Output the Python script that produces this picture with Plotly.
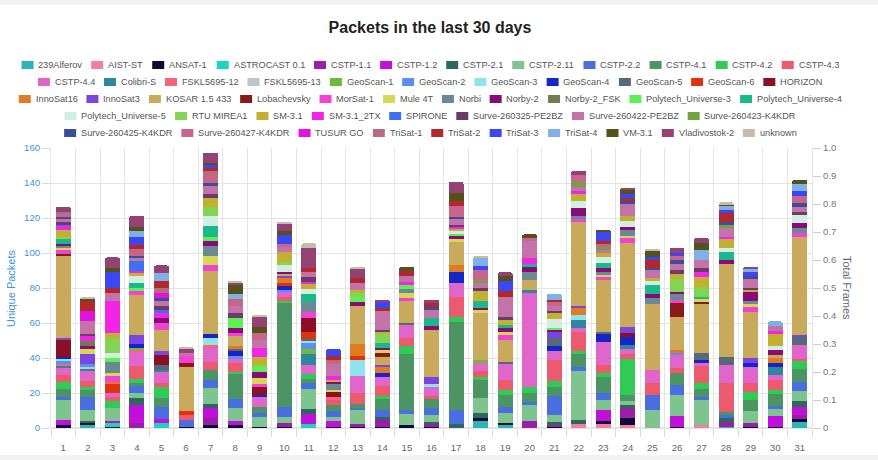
import plotly.graph_objects as go

# ---------------- data ----------------
DAYS = list(range(1, 32))
DAY_LABELS = [str(d) for d in DAYS]

NAMES = ["239Alferov", "AIST-ST", "ANSAT-1", "ASTROCAST 0.1", "CSTP-1.1", "CSTP-1.2", "CSTP-2.1",
         "CSTP-2.11", "CSTP-2.2", "CSTP-4.1", "CSTP-4.2", "CSTP-4.3", "CSTP-4.4", "Colibri-S",
         "FSKL5695-12", "FSKL5695-13", "GeoScan-1", "GeoScan-2", "GeoScan-3", "GeoScan-4",
         "GeoScan-5", "GeoScan-6", "HORIZON", "InnoSat16", "InnoSat3", "KOSAR 1.5 433",
         "Lobachevsky", "MorSat-1", "Mule 4T", "Norbi", "Norby-2", "Norby-2_FSK",
         "Polytech_Universe-3", "Polytech_Universe-4", "Polytech_Universe-5", "RTU MIREA1",
         "SM-3.1", "SM-3.1_2TX", "SPIRONE", "Surve-260325-PE2BZ", "Surve-260422-PE2BZ",
         "Surve-260423-K4KDR", "Surve-260425-K4KDR", "Surve-260427-K4KDR", "TUSUR GO",
         "TriSat-1", "TriSat-2", "TriSat-3", "TriSat-4", "VM-3.1", "Vladivostok-2", "unknown"]

COLORS = ["#2bb5b8", "#f27ea0", "#0b0b35", "#1dd3c0", "#9a1fa6", "#c20fdc", "#2f665e",
          "#7ec48e", "#4a6ee0", "#4c9463", "#2fcb55", "#ec5a6e", "#e066cc", "#2d87a0",
          "#f5647a", "#bcc6cb", "#6cbb3c", "#5d8ef0", "#8fe3ea", "#1426c8",
          "#56687a", "#e0320f", "#8c1024", "#e07b22", "#7a45e0", "#c9a95c",
          "#8a1a1a", "#f242d6", "#d4d855", "#6a8a92", "#8a0a78", "#6e7d52",
          "#5cf055", "#19b98a", "#d2ede2", "#82d552",
          "#c2b032", "#f224e6", "#3b72f2", "#6e3b68", "#c473a8",
          "#73a33f", "#3a4f96", "#c9648c", "#e212dc",
          "#b56c7e", "#b2282c", "#3b48f2", "#7fb0e6", "#52521a", "#944274", "#cbbaa8"]

ALFEROV  = [0,2,0,0,0,0,0,0,0,0, 0,0,0,0,0,0,0,4.2,1.5,0, 0,0,0,0,0,0,0,0.7,0,0, 3.6]
AIST     = [0,0,0,0,0,0,0,0,0,0, 0,0,0,0,0,0,0,0,0,0, 0,2.3,2.3,1.7,0,0,1.7,0,0,0, 0]
ANSAT    = [1.5,0.7,0.7,0,0,0.7,1.5,1.5,0.7,0.7, 0,0.7,0.7,0.7,1.5,0.7,0,1.3,1.5,0, 0.7,0,1.9,3.8,0,0.7,0,0,0.7,0.7, 1.3]
ASTRO    = [0,0,2.3,0,2.7,0,0,0,0,0, 2.3,0,0,0,0,0,0,0,0,0, 0,0,0,0,0,0,0,0,0,0, 0]
CSTP11   = [0,0,0,2.7,0,0,4,0,0,2, 0,0,1.5,3.8,0,1.5,0,0,0,4.2, 1,0,0,5.7,0,0,0,2.9,1.9,0, 2.5]
CSTP12   = [3,0,1,10.5,2.3,0,5.7,2.7,0,0, 5.7,3.3,0,0,0,0,0,0,0,0, 0,0,6.1,0,0,6.1,0,0,0,6.1, 4.8]
CSTP21   = [0,1.5,0,3.8,0,0,2.8,0,0,0, 2.9,0,0,1.9,0,1.3,2.3,2.9,0,0, 1.5,2.5,0,1.9,0,0,0,1.9,0,0, 3.4]
CSTP211  = [12,6,7.5,3.2,0,0,8.6,7,5.7,3.8, 11.2,2.5,8,0,6.5,3.8,0,8.6,5.7,9, 4.5,28,5.7,2.5,10.3,12,14.3,0,7.2,3.8, 5.7]
CSTP22   = [1,7.5,0,3.8,7.2,4,4.8,5.1,2,5.7, 3.8,3.5,1.5,3.8,2.3,4.2,8,0,3.4,1.9, 10.5,2.3,4.2,0,8.6,5.5,1.9,1.9,0,1.9, 5.1]
CSTP41   = [5,4,0,2,4.8,0,5.7,14.9,3.8,59, 1.9,3,2.3,6.1,32,4.8,50,10.5,6.7,5.1, 5.3,7.2,9.1,3.2,0,6.9,4.2,1.9,6.1,7.2, 7.6]
CSTP42   = [4,2,4,2.2,6.3,0,0,1,0,1.5, 3,0,0,1.9,4.8,0,3,1.9,3.2,3, 3.2,1.5,1.9,20.4,0,0,3.4,0,4.8,2.3, 4.4]
CSTP43   = [4,3,2,7,2.7,3,4.8,4.8,0,2.3, 0,3,6,5.7,4.6,1.9,11.8,2.9,5.3,0, 12.4,10.9,4.8,3,6.7,2.9,9.9,16.2,4.8,5.3, 1.3]
CSTP44   = [4,6,2.5,8.5,6.3,0,7.6,2.9,5.7,2.9, 5.1,0,10,5.3,6.9,5,7.6,4.8,9.5,54, 4.8,2.5,13.3,2.7,7.6,7.6,1.5,10.5,9.1,2.9, 7.6]
COLIBRI  = [1,1.5,0,0,1,0,0,0,0,0, 6.3,0,0,0,0,0,0,0,0,1.9, 0,4.6,0,2.5,0,0,0,0,0,4.8, 0]
FSKL12   = [1,0,0,1,0,0,2,0,0,0, 0,1.5,0,0,0,0,0,0,0,0, 0,0,0,0,0,0,0,0,0,0, 0]
FSKL13   = [0,0.7,0,0,0,0,0,0,0,0, 0,0,0,0,0,0,0,0,0,0, 0,0,0,0,0,0,0,0,0,0, 0]
GEO1     = [0,0,0,1,0,0,0,0,0,0, 2.7,0,0,0,0,0,0,1.9,0,0, 0,0,0,0,0,0,0,0,0,0, 0]
GEO2     = [2,1.5,0,0,0,0,0,1,0,1, 3.4,0,0,0,0,0,0,0,0,0, 0,0,0,0,0,1.3,0,0,0,0, 0]
GEO3     = [1,0,0,0,0,0,3.8,0,0,0, 1.5,0,9,0,0,1.9,0,0,0,0, 0,2.5,0,0,0,0,0,0,0,0, 0]
GEO4     = [1,0,0,2.3,0,0,2.5,3.2,0.8,2, 0,0,0,2,0,0,6.7,0,0,0, 2.9,0,4.8,4.8,0,0,1.9,0,2.3,1.9, 0]
GEO5     = [0,0,0,0,2.8,0,0,1.5,0,0, 1.3,0,0,0,1.3,0,0,0,1,0, 4.8,0,1,0,0,0,3.8,4.8,0,0, 4.8]
GEO6     = [0,0,5.5,0,0,2.3,0,0,0,2, 3.8,0,2,0,0,0,0,0,0,0, 0,0,0,0,0,0,0,0,0,0, 0]
HORIZON  = [10,0,0,0,5.7,0,0,0,4.8,0, 8.2,3.5,0,0,0,0,0,0,0,0, 0,0,0,2.3,0,0,0,0,0,0, 0]
INNO16   = [0,0,1,0,0,0,0,1,0,3, 0,0,6.9,3.8,0,0,3.8,0,0,0, 0,4.4,0,0,0,1.5,0,0,0,2.9, 0]
INNO3    = [1,6,0,5,2,0,0,0,0,1, 0,0,0,1,0,4.2,0,0,0,0, 3.8,1.3,0,3,0,0,0,0,2.9,0, 1]
KOSAR    = [47,0,0,23,12.4,25,35.7,5.7,0,1, 0,0,21.7,4.8,12.4,26.7,13.3,26.7,12.4,5.3, 0,47.6,29.5,48,37.7,19,28.6,52.8,26.7,1.9, 55.8]
LOBACH   = [1,0,0,0,0,2,0,0,0,0, 0,0,0,1.9,0,0,0,0,0,0, 0,0,0,0,0,8,1,0,0,0, 0]
MORSAT   = [2.5,0,3,2.3,3.8,4,3.8,2,1.9,0, 3.2,0,0,0,1.9,0,0,0,2.9,0, 0,1.9,1.9,3.4,0,1.5,0,0,2.9,0, 2.3]
MULE     = [1,2.5,2,0,0,0,4.8,0,2.9,0, 0,1,0,1.9,3.2,0,1.5,1.9,1.9,0, 0,0,1,1,0,0,1.9,0,1.5,0, 0]
NORBI    = [1,0,6,0,0,0,5.7,0,0,0, 5.7,3,0,0,1.9,0,0,0,0,4.8, 0,1.9,1.9,3.4,3.2,3.4,0,0,1.9,0, 2.9]
NORBY2   = [1,2,0,0,2.8,0,2.8,3,3.8,1.3, 0,1.5,2.5,1,0,2.3,2,1,1.9,2.9, 1,4.4,1.9,1.5,2.5,1.3,0,2.5,5.1,2.7, 3.2]
NORBYFSK = [0,3,0,0,0,0,0,0,0,0, 0,0,0,0,0,0,0,0,0,0, 0,0,0,0,0,0,0,0,0,0, 0]
PU3      = [0,0,2.5,1.5,0,0,2.5,5.7,2.9,0, 0,0,2.9,0,2.5,0,1,0,0,0, 1,0,0,0,0,0,0,0,0,0, 0]
PU4      = [3,0,0,3.2,0,0,6.5,0,0,0, 4.4,0,0,2.9,0,4.4,0,3.8,1.9,1.9, 0,0,2.9,0,5.1,0,1,4.4,0,0, 0]
PU5      = [0,0,3,4,0,0,5.3,0,0,3.8, 3.2,0,0,0,0,0,1.5,0,0,0, 4.8,4.2,3.8,3.4,2.5,0,0,2.3,0,2.5, 4.4]
RTU      = [1,0,8.5,0,0,0,5.3,0,1,2, 0,0,2,5.7,0,0,0,0,0,0, 0,0,0,0,0,7.6,5.7,0,0,0, 0]
SM31     = [4,0,3,2,0,0,5.1,0,4.7,5.7, 2.9,1,2,1,0,0,1.5,5.7,2.9,0, 3.8,3.8,1.9,2.9,1.3,2.9,5.7,5.3,1,6.7, 0]
SM31TX   = [2.5,3,18,1,2.8,0,0,0,4.8,0, 1,2,0,0,1.9,0,1,0,0,2.9, 0,1.5,0,0,0,0,2.9,1.3,0,1.9, 0]
SPIRONE  = [1,0,0,5.5,2,0,0,0,0,0, 0,0,0,0,0,0,0,0,0,0, 0,0,0,0,0,0,0,0,0,0, 0]
S260325  = [1,1,0,0,2,0,2.5,2.5,0,0, 2.9,0,0,1,0,0,1,1.9,1.9,0, 1,0,0,0,0,1.9,1.9,0,1,0, 1.9]
S260422  = [2,7,4.5,2,2.8,2,5,4,4.8,3, 2.9,7.5,4,10.4,3.2,4.8,3.5,2.9,11,10, 2.9,2.5,1.9,6.7,4.8,3.8,4.8,4.8,5.3,2.9, 2.9]
S260423  = [0,0,0,0,0,0,0,0,0,0, 0,0,0,0,0,0,0,1.9,0,0, 0,2.9,1.9,0,0,0,0,1.9,0,0, 0]
S260425  = [1,0,0,1,2,0,1,0,0,0, 0,0,0,0,0,1.9,1,0,0,0, 0,0,0,1.9,1,1.9,0,1.9,1.9,0, 1.9]
S260427  = [2,0,0,3.8,0,0,4.8,3,3.8,1.3, 0,1,0,0,0,0,6.5,5.7,0,1.9, 1.9,3.8,1.5,0,0,2.3,0,0,0,0, 4.4]
TUSUR    = [0,6,0,0,2.8,0,0,0,0,0, 0,0,0,0,0,0,0,0,0,0, 0,0,0,0,0,0,0,0,0,0, 0]
TRISAT1  = [1,0,0,0,2.9,0,2,1.5,0,0, 0,1,0,0,0,0,0,0,0,0, 0,0,0,0,0,0,0,0,0,0, 0]
TRISAT2  = [0,6,3,2,3.8,0,2,0,0,0, 1.9,2,3,1.9,3,1.9,3,0,3.8,0, 1.4,0,1.9,1.9,4.8,0,0,4.8,0,0, 0]
TRISAT3  = [0,0,9,5,0,0,2,0,0,5.3, 0,4,0,3.8,0,0,0,1.9,5.7,0, 0,0,4.8,2.3,1.9,1.9,0,1.9,1.9,0, 2.9]
TRISAT4  = [0,0,0,3.5,4.4,0,0,2.5,0,0, 0,0,0,0,0,0,0,4.8,0,0, 3.4,0,0,0,0,0,5.7,1.9,1.9,2.5, 3.8]
VM31     = [0,1,2.5,2.3,0,0,1,5,3.8,2, 0,0,0,0,2.3,0,4.5,0,2.9,1.9, 0,0,1.5,1.9,2.9,0,3.8,1.3,0,0, 2.5]
VLADIVO  = [3,0,6,6.3,4.6,2.5,5.7,1.5,5.3,4.4, 11.4,0,5,0.6,0,1.9,6.3,0,1.9,0, 0,2.5,0,1.5,0,3,2.9,0,1,0, 0]
UNKNOWN  = [0,0.7,0,0,0,1,0,1,1.3,1.3, 2.9,0,1.2,0,0,0,0,1,0,0, 0,0,0,0,1.5,0,0,1,0,0, 0]

SERIES = [ALFEROV, AIST, ANSAT, ASTRO, CSTP11, CSTP12, CSTP21, CSTP211, CSTP22, CSTP41,
          CSTP42, CSTP43, CSTP44, COLIBRI, FSKL12, FSKL13, GEO1, GEO2, GEO3, GEO4, GEO5,
          GEO6, HORIZON, INNO16, INNO3, KOSAR, LOBACH, MORSAT, MULE, NORBI, NORBY2,
          NORBYFSK, PU3, PU4, PU5, RTU, SM31, SM31TX, SPIRONE, S260325, S260422, S260423,
          S260425, S260427, TUSUR, TRISAT1, TRISAT2, TRISAT3, TRISAT4, VM31, VLADIVO, UNKNOWN]

LEFT_TICKS = [0, 20, 40, 60, 80, 100, 120, 140, 160]
RIGHT_TICKS = [0, 0.1, 0.2, 0.3, 0.4, 0.5, 0.6, 0.7, 0.8, 0.9, 1.0]
RIGHT_LABELS = ["0", "0.1", "0.2", "0.3", "0.4", "0.5", "0.6", "0.7", "0.8", "0.9", "1.0"]

TITLE = "Packets in the last 30 days"
LEFT_TITLE = "Unique Packets"
RIGHT_TITLE = "Total Frames"

# ---------------- layout constants ----------------
W, H = 878, 460
PL, PR, PT, PB = 51, 812, 148, 428
FONT = "Liberation Sans, Arial, sans-serif"
BLUE = "#3b95dd"
GRID = "#e4e4e4"
TICKC = "#dadada"
SMALL = 9.6


def px_x(px):
    return (px - PL) / (PR - PL)


def px_y(py):
    return (PB - py) / (PB - PT)


fig = go.Figure()
for name, color, vals in zip(NAMES, COLORS, SERIES):
    fig.add_trace(go.Bar(
        x=DAYS, y=[v if v else None for v in vals], name=name,
        marker=dict(color=color, line=dict(width=0)),
        showlegend=False, hovertemplate=name + ": %{y}<extra></extra>"))

# helper traces so the label axis and the right axis are drawn
fig.add_trace(go.Scatter(x=[DAYS[0]], y=[0], xaxis="x2", yaxis="y", mode="markers",
                         marker=dict(opacity=0), showlegend=False, hoverinfo="skip"))
fig.add_trace(go.Scatter(x=[DAYS[0]], y=[0], xaxis="x", yaxis="y2", mode="markers",
                         marker=dict(opacity=0), showlegend=False, hoverinfo="skip"))

# ---------------- manual legend (Chart.js style) ----------------
AW = {' ': 278, '.': 278, '-': 333, '_': 556, '0': 556, '1': 556, '2': 556, '3': 556, '4': 556,
      '5': 556, '6': 556, '7': 556, '8': 556, '9': 556,
      'A': 667, 'B': 667, 'C': 722, 'D': 722, 'E': 667, 'F': 611, 'G': 778, 'H': 722, 'I': 278,
      'J': 500, 'K': 667, 'L': 556, 'M': 833, 'N': 722, 'O': 778, 'P': 667, 'Q': 778, 'R': 722,
      'S': 667, 'T': 611, 'U': 722, 'V': 667, 'W': 944, 'X': 667, 'Y': 667, 'Z': 611,
      'a': 556, 'b': 556, 'c': 500, 'd': 556, 'e': 556, 'f': 278, 'g': 556, 'h': 556, 'i': 222,
      'j': 222, 'k': 500, 'l': 222, 'm': 833, 'n': 556, 'o': 556, 'p': 556, 'q': 556, 'r': 333,
      's': 500, 't': 278, 'u': 556, 'v': 500, 'w': 722, 'x': 500, 'y': 500, 'z': 500}


def text_w(s, size):
    return sum(AW.get(c, 556) for c in s) * size / 1000.0


LEG_FS = 9.2
BOX_W, BOX_H, BOX_GAP, ITEM_PAD = 12, 8, 4.3, 9.4
MAX_ROW = 840
LEG_CX, LEG_Y0, LEG_DY = 430, 65, 17

rows, cur, cur_w = [], [], 0
for i, name in enumerate(NAMES):
    w = BOX_W + BOX_GAP + text_w(name, LEG_FS)
    add = w if not cur else w + ITEM_PAD
    if cur and cur_w + add > MAX_ROW:
        rows.append(cur)
        cur, cur_w = [], 0
        add = w
    cur.append((i, w))
    cur_w += add
if cur:
    rows.append(cur)

shapes, annots = [], []
for r, row in enumerate(rows):
    total = sum(w for _, w in row) + ITEM_PAD * (len(row) - 1)
    x = LEG_CX - total / 2
    yc = LEG_Y0 + r * LEG_DY
    for i, w in row:
        shapes.append(dict(type="rect", xref="paper", yref="paper",
                           x0=px_x(x), x1=px_x(x + BOX_W),
                           y0=px_y(yc + BOX_H / 2), y1=px_y(yc - BOX_H / 2),
                           fillcolor=COLORS[i], line=dict(width=0)))
        annots.append(dict(text=NAMES[i], xref="paper", yref="paper",
                           x=px_x(x + BOX_W + BOX_GAP - 1.5), y=px_y(yc),
                           xanchor="left", yanchor="middle", showarrow=False,
                           font=dict(family=FONT, size=LEG_FS, color="#555")))
        x += w + ITEM_PAD

# page strips (top / bottom light gray)
shapes.append(dict(type="rect", xref="paper", yref="paper", x0=px_x(0), x1=px_x(W),
                   y0=px_y(5), y1=px_y(0), fillcolor="#f2f2f2", line=dict(width=0), layer="below"))
shapes.append(dict(type="rect", xref="paper", yref="paper", x0=px_x(0), x1=px_x(W),
                   y0=px_y(H), y1=px_y(455), fillcolor="#f2f2f2", line=dict(width=0), layer="below"))

# axis titles
annots.append(dict(text=LEFT_TITLE, xref="paper", yref="paper", x=px_x(11), y=px_y(288),
                   textangle=-90, showarrow=False, xanchor="center", yanchor="middle",
                   font=dict(family=FONT, size=11, color=BLUE)))
annots.append(dict(text=RIGHT_TITLE, xref="paper", yref="paper", x=px_x(847), y=px_y(288),
                   textangle=90, showarrow=False, xanchor="center", yanchor="middle",
                   font=dict(family=FONT, size=11, color="#5f6b78")))

fig.update_layout(
    width=W, height=H, autosize=False,
    margin=dict(l=PL, r=W - PR, t=PT, b=H - PB, pad=0, autoexpand=False),
    paper_bgcolor="white", plot_bgcolor="white",
    barmode="stack", bargap=0.39, barcornerradius=2,
    showlegend=False,
    title=dict(text=TITLE, x=430 / W, xref="container", xanchor="center",
               y=1 - 27 / H, yref="container", yanchor="middle",
               font=dict(family=FONT, size=16, color="#222", weight="bold"),
               automargin=False),
    xaxis=dict(range=[0.5, 31.5], tickmode="linear", tick0=0.5, dtick=1,
               showticklabels=False, ticks="outside", ticklen=8, tickcolor=TICKC,
               showgrid=True, gridcolor=GRID, gridwidth=1, zeroline=False, showline=False,
               automargin=False, fixedrange=True),
    xaxis2=dict(overlaying="x", matches="x", anchor="y", side="bottom",
                tickmode="array", tickvals=DAYS, ticktext=DAY_LABELS,
                ticks="outside", ticklen=10, tickcolor="rgba(0,0,0,0)",
                tickfont=dict(family=FONT, size=SMALL, color="#666"),
                showgrid=False, zeroline=False, showline=False, automargin=False),
    yaxis=dict(range=[0, 160], tickmode="array", tickvals=LEFT_TICKS,
               ticks="outside", ticklen=8, tickcolor=TICKC,
               tickfont=dict(family=FONT, size=SMALL, color=BLUE),
               showgrid=True, gridcolor=GRID, zeroline=True, zerolinecolor=GRID,
               showline=True, linecolor=GRID, automargin=False),
    yaxis2=dict(overlaying="y", side="right", anchor="x", range=[0, 1],
                tickmode="array", tickvals=RIGHT_TICKS, ticktext=RIGHT_LABELS,
                ticks="outside", ticklen=8, tickcolor="#cfcfcf",
                tickfont=dict(family=FONT, size=SMALL, color="#777"),
                showgrid=False, zeroline=False, showline=True, linecolor=GRID,
                automargin=False),
    shapes=shapes, annotations=annots,
)

fig.write_html("out.html")
